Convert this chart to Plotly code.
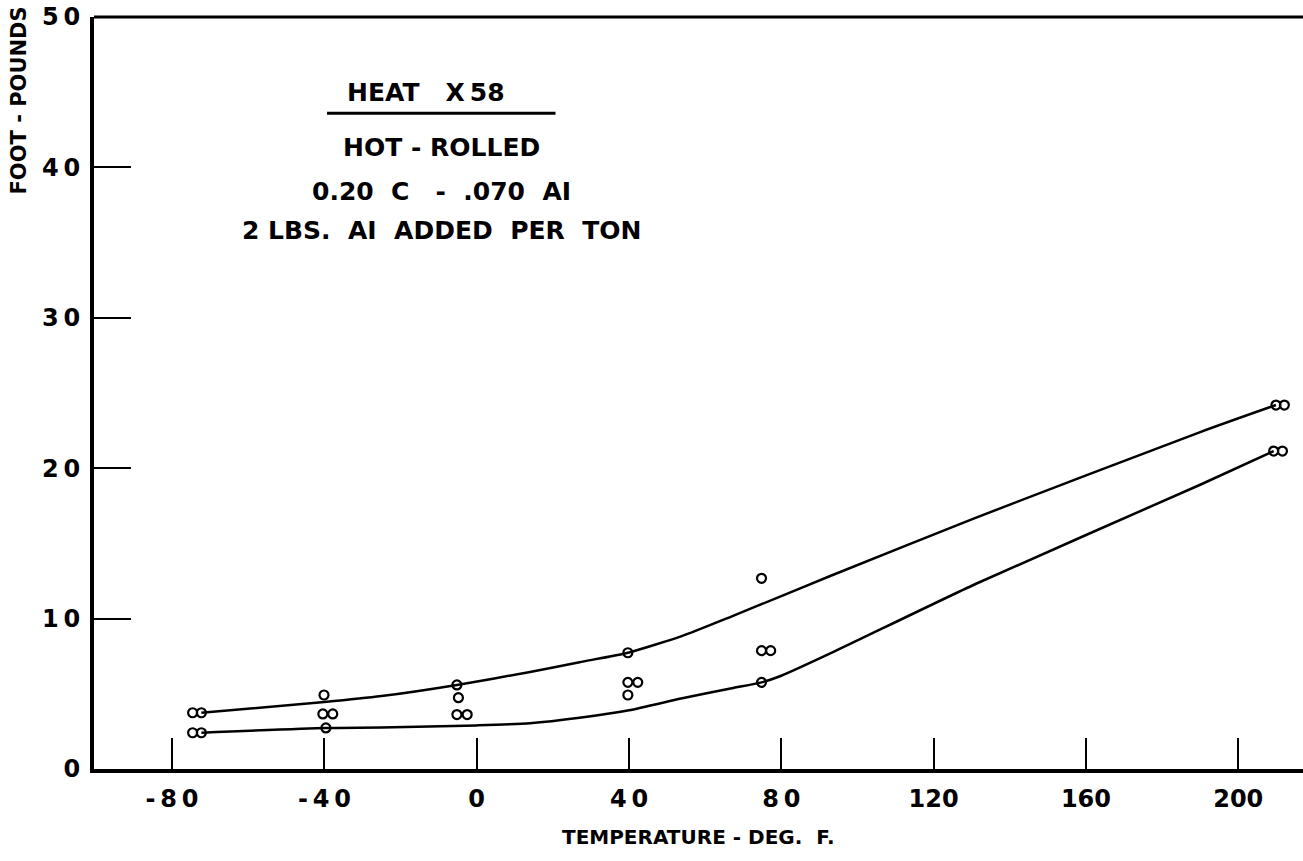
import plotly.graph_objects as go

# ---- data ----
pt_temp = [-74.6, -72.3, -74.6, -72.3,
           -40.1, -40.4, -37.8, -39.6,
           -5.2, -4.8, -5.2, -2.5,
           39.7, 39.7, 42.3, 39.7,
           74.8, 74.8, 77.2, 74.8,
           209.9, 212.1, 209.3, 211.6]
pt_energy = [3.74, 3.74, 2.41, 2.41,
             4.92, 3.66, 3.66, 2.73,
             5.59, 4.74, 3.62, 3.62,
             7.73, 5.76, 5.76, 4.92,
             12.68, 7.87, 7.87, 5.76,
             24.2, 24.2, 21.14, 21.14]

upper_temp = [-72.3, -40, -25, -5.2, 14, 27, 40, 54, 67, 80, 93, 131, 190, 209.9]
upper_energy = [3.74, 4.45, 4.85, 5.59, 6.45, 7.1, 7.75, 8.85, 10.15, 11.5, 12.85, 16.7, 22.4, 24.2]

lower_temp = [-72.3, -39.6, -25, 0, 14, 27, 40, 54, 67, 74.8, 80, 93, 131, 190, 209.3]
lower_energy = [2.41, 2.73, 2.76, 2.9, 3.04, 3.4, 3.9, 4.7, 5.37, 5.76, 6.2, 7.7, 12.3, 18.9, 21.14]

x_ticks = [-80, -40, 0, 40, 80, 120, 160, 200]
x_tick_text = ["-\u20098\u20090", "-\u20094\u20090", "0", "4\u20090", "8\u20090",
               "120", "160", "200"]
y_ticks = [0, 10, 20, 30, 40, 50]
y_tick_text = ["0", "1\u20090", "2\u20090", "3\u20090", "4\u20090", "5\u20090"]

FONT = "DejaVu Sans"

fig = go.Figure()
fig.add_trace(go.Scatter(x=upper_temp, y=upper_energy, mode="lines",
                         line=dict(color="black", width=2.5, shape="spline", smoothing=0.6),
                         hoverinfo="skip", showlegend=False))
fig.add_trace(go.Scatter(x=lower_temp, y=lower_energy, mode="lines",
                         line=dict(color="black", width=2.5, shape="spline", smoothing=0.6),
                         hoverinfo="skip", showlegend=False))
fig.add_trace(go.Scatter(x=pt_temp, y=pt_energy, mode="markers",
                         marker=dict(symbol="circle-open", size=9, color="black",
                                     line=dict(width=2.2, color="black")),
                         showlegend=False))

fig.update_layout(
    width=1303, height=861,
    margin=dict(l=94, r=0, t=17, b=92),
    paper_bgcolor="white", plot_bgcolor="white",
    font=dict(family=FONT, color="black", size=24, weight="bold"),
    xaxis=dict(range=[-100.5, 217], tickvals=x_ticks, ticktext=x_tick_text,
               ticks="inside", ticklen=31, tickwidth=2, tickcolor="black",
               showline=True, linewidth=4, linecolor="black",
               showgrid=False, zeroline=False, ticklabelstandoff=5,
               tickfont=dict(family=FONT, size=24, weight="bold")),
    yaxis=dict(range=[0, 50], tickvals=y_ticks, ticktext=y_tick_text,
               ticks="inside", ticklen=37, tickwidth=2, tickcolor="black",
               showline=True, linewidth=4, linecolor="black",
               showgrid=False, zeroline=False, ticklabelstandoff=5,
               tickfont=dict(family=FONT, size=24, weight="bold")),
)

# top border
fig.add_shape(type="line", xref="paper", yref="paper", x0=0, x1=1, y0=1, y1=1,
              line=dict(color="black", width=3))
# underline of the heading
fig.add_shape(type="line", xref="x", yref="y", x0=-39.3, x1=20.7, y0=43.6, y1=43.6,
              line=dict(color="black", width=3))

def txt(x, y, s, size=25):
    fig.add_annotation(x=x, y=y, xref="x", yref="y", text=s, showarrow=False,
                       font=dict(family=FONT, size=size, weight="bold", color="black"),
                       xanchor="center", yanchor="middle")

txt(-13.3, 45.0, "HEAT   X\u200958")
txt(-9.3, 41.3, "HOT - ROLLED")
txt(-9.3, 38.4, "0.20  C   -  .070  AI")
txt(-9.3, 35.8, "2 LBS.  AI  ADDED  PER  TON")

fig.add_annotation(x=0.5, y=-0.09, xref="paper", yref="paper",
                   text="TEMPERATURE - DEG.  F.", showarrow=False,
                   font=dict(family=FONT, size=20, weight="bold", color="black"),
                   xanchor="center", yanchor="middle")
fig.add_annotation(x=-0.0624, y=1.016, xref="paper", yref="paper",
                   text="FOOT - POUNDS", showarrow=False, textangle=-90,
                   font=dict(family=FONT, size=21, weight="bold", color="black"),
                   xanchor="center", yanchor="top")

fig.write_html("out.html")
